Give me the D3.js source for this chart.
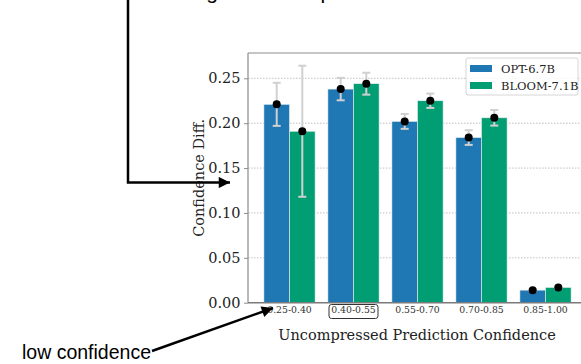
<!DOCTYPE html>
<html>
<head>
<meta charset="utf-8">
<script src="https://cdn.jsdelivr.net/npm/d3@7"></script>
<style>
  body { margin: 0; background: #fff; }
  svg { display: block; }
</style>
</head>
<body>
<div id="chart"></div>
<script>
const categories = ["0.25-0.40", "0.40-0.55", "0.55-0.70", "0.70-0.85", "0.85-1.00"];
const seriesNames = ["OPT-6.7B", "BLOOM-7.1B"];
const optValues = [0.221, 0.238, 0.202, 0.184, 0.014];
const optErrors = [0.024, 0.0125, 0.0083, 0.0082, 0.001];
const bloomValues = [0.191, 0.244, 0.225, 0.206, 0.017];
const bloomErrors = [0.073, 0.0122, 0.008, 0.0087, 0.001];
const yTicks = [0.00, 0.05, 0.10, 0.15, 0.20, 0.25];
const colors = ["#1f77b4", "#029e73"];

const width = 581, height = 364;
const serif = "'DejaVu Serif', serif";
const sans = "'Liberation Sans', Arial, sans-serif";

const svg = d3.select("#chart").append("svg")
  .attr("width", width)
  .attr("height", height);

// axes box
const plotLeft = 248, plotRight = 586, plotTop = 53, plotBottom = 302.7;

const y = d3.scaleLinear()
  .domain([0, 0.2782])
  .range([plotBottom, plotTop]);

const x = d3.scaleBand()
  .domain(categories)
  .range([257.5, 577.5])
  .paddingInner(0.2)
  .paddingOuter(0.1);

const xs = d3.scaleBand()
  .domain(seriesNames)
  .range([0, x.bandwidth()]);

// grid
svg.append("g")
  .selectAll("line")
  .data(yTicks.slice(1))
  .enter().append("line")
  .attr("x1", plotLeft).attr("x2", plotRight)
  .attr("y1", d => y(d)).attr("y2", d => y(d))
  .attr("stroke", "#b0b0b0")
  .attr("stroke-width", 0.8)
  .attr("stroke-dasharray", "1.5,1.5");

// bars
const rows = [];
categories.forEach((c, i) => {
  rows.push({ cat: c, s: seriesNames[0], v: optValues[i], e: optErrors[i], col: colors[0] });
  rows.push({ cat: c, s: seriesNames[1], v: bloomValues[i], e: bloomErrors[i], col: colors[1] });
});

svg.append("g")
  .selectAll("rect")
  .data(rows)
  .enter().append("rect")
  .attr("x", d => x(d.cat) + xs(d.s))
  .attr("y", d => y(d.v))
  .attr("width", xs.bandwidth())
  .attr("height", d => y(0) - y(d.v))
  .attr("fill", d => d.col)
  .attr("stroke", "#e8f0f0")
  .attr("stroke-width", 0.6);

// error bars
const eb = svg.append("g")
  .attr("stroke", "#d0d0d0")
  .attr("stroke-width", 2);
rows.forEach(d => {
  const cx = x(d.cat) + xs(d.s) + xs.bandwidth() / 2;
  eb.append("line").attr("x1", cx).attr("x2", cx).attr("y1", y(d.v + d.e)).attr("y2", y(d.v - d.e));
  eb.append("line").attr("x1", cx - 4).attr("x2", cx + 4).attr("y1", y(d.v + d.e)).attr("y2", y(d.v + d.e));
  eb.append("line").attr("x1", cx - 4).attr("x2", cx + 4).attr("y1", y(d.v - d.e)).attr("y2", y(d.v - d.e));
});

// mean dots
svg.append("g")
  .selectAll("circle")
  .data(rows)
  .enter().append("circle")
  .attr("cx", d => x(d.cat) + xs(d.s) + xs.bandwidth() / 2)
  .attr("cy", d => y(d.v))
  .attr("r", 4)
  .attr("fill", "#000");

// spines
svg.append("line").attr("x1", plotLeft).attr("x2", plotRight).attr("y1", plotTop).attr("y2", plotTop)
  .attr("stroke", "#8c8c8c").attr("stroke-width", 1.2);
svg.append("line").attr("x1", plotLeft).attr("x2", plotLeft).attr("y1", plotTop).attr("y2", plotBottom)
  .attr("stroke", "#8c8c8c").attr("stroke-width", 1.2);
svg.append("line").attr("x1", plotLeft).attr("x2", plotRight).attr("y1", plotBottom).attr("y2", plotBottom)
  .attr("stroke", "#7a7a7a").attr("stroke-width", 1.5);

// y axis
const yAxis = svg.append("g")
  .attr("transform", "translate(" + plotLeft + ",0)")
  .call(d3.axisLeft(y).tickValues(yTicks).tickFormat(d3.format(".2f")).tickSize(4).tickPadding(3.5));
yAxis.select(".domain").remove();
yAxis.selectAll("line").attr("stroke", "#8c8c8c");
yAxis.selectAll("text")
  .attr("font-family", serif)
  .attr("font-size", 14.5)
  .attr("fill", "#222");

// x axis
const xAxis = svg.append("g")
  .attr("transform", "translate(0," + plotBottom + ")")
  .call(d3.axisBottom(x).tickSize(0).tickPadding(4));
xAxis.select(".domain").remove();
xAxis.selectAll("text")
  .attr("font-family", serif)
  .attr("font-size", 9.3)
  .attr("fill", "#333");

// box around second category label
const c2 = x(categories[1]) + x.bandwidth() / 2;
svg.append("rect")
  .attr("x", c2 - 24.5).attr("y", plotBottom + 1.8)
  .attr("width", 49).attr("height", 14)
  .attr("rx", 2.5)
  .attr("fill", "none")
  .attr("stroke", "#333")
  .attr("stroke-width", 1);

// axis labels
svg.append("text")
  .attr("x", 417).attr("y", 340)
  .attr("text-anchor", "middle")
  .attr("font-family", serif)
  .attr("font-size", 14.5)
  .attr("fill", "#222")
  .text("Uncompressed Prediction Confidence");

svg.append("text")
  .attr("transform", "translate(204," + (plotTop + plotBottom) / 2 + ") rotate(-90)")
  .attr("text-anchor", "middle")
  .attr("font-family", serif)
  .attr("font-size", 14.5)
  .attr("fill", "#222")
  .text("Confidence Diff.");

// legend
const lg = svg.append("g").attr("transform", "translate(466,58)");
lg.append("rect")
  .attr("width", 112).attr("height", 37)
  .attr("rx", 2)
  .attr("fill", "#fff").attr("fill-opacity", 0.85)
  .attr("stroke", "#d6d6d6");
seriesNames.forEach((s, i) => {
  lg.append("rect")
    .attr("x", 4).attr("y", 7 + i * 17)
    .attr("width", 22).attr("height", 7)
    .attr("fill", colors[i]);
  lg.append("text")
    .attr("x", 35).attr("y", 15 + i * 17)
    .attr("font-family", serif)
    .attr("font-size", 11.5)
    .attr("fill", "#222")
    .text(s);
});

// annotations
svg.append("defs").append("marker")
  .attr("id", "head")
  .attr("viewBox", "0 0 10 10")
  .attr("refX", 10).attr("refY", 5)
  .attr("markerWidth", 6).attr("markerHeight", 4.5)
  .attr("markerUnits", "strokeWidth")
  .attr("orient", "auto")
  .append("path")
  .attr("d", "M0,0 L10,5 L0,10 Z")
  .attr("fill", "#000");

svg.append("path")
  .attr("d", "M128,0 L128,182.5 L230,182.5")
  .attr("fill", "none")
  .attr("stroke", "#000")
  .attr("stroke-width", 2.5)
  .attr("marker-end", "url(#head)");

svg.append("path")
  .attr("d", "M152,351 L273,308")
  .attr("fill", "none")
  .attr("stroke", "#000")
  .attr("stroke-width", 2.5)
  .attr("marker-end", "url(#head)");

svg.append("text")
  .attr("x", 22).attr("y", 359)
  .attr("font-family", sans)
  .attr("font-size", 19.5)
  .attr("fill", "#000")
  .text("low confidence");

svg.append("text")
  .attr("x", 191).attr("y", -1.5)
  .attr("font-family", sans)
  .attr("font-size", 21)
  .attr("fill", "#000")
  .text("significant drop");
</script>
</body>
</html>
